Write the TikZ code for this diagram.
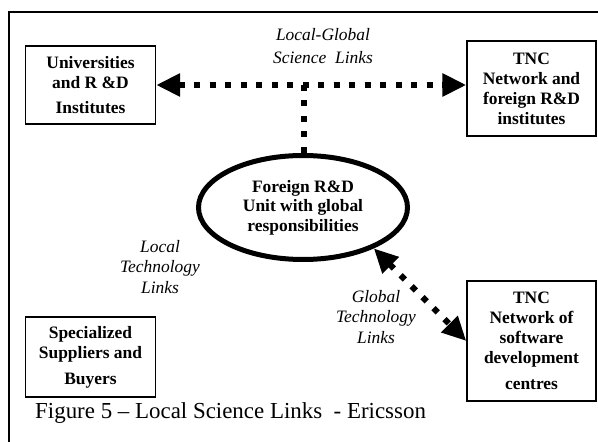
\documentclass[tikz,border=0pt]{standalone}
\usepackage{fontspec}
\setmainfont{Liberation Serif}
\usetikzlibrary{arrows.meta,shapes.geometric}
\begin{document}
\begin{tikzpicture}[x=1bp,y=-1bp,
  >={Triangle[length=24bp,width=22bp]},
  box/.style={draw,line width=1.4bp,inner sep=0pt,align=center,
    font=\fontsize{17.5}{20}\selectfont\bfseries},
  linklabel/.style={align=center,font=\fontsize{17.5}{21}\selectfont\itshape},
  dotline/.style={line width=6bp,dash pattern=on 6bp off 9.5bp}
]
\useasboundingbox (0,0) rectangle (598,442);
% outer frame (open to the right and bottom)
\draw[line width=1.5bp] (9,460) -- (9,12) -- (610,12);

% partner boxes
\node[box,minimum width=130bp,minimum height=78bp] (uni) at (90.5,85)
  {Universities\\ and R \&D\\[5bp] Institutes};
\node[box,minimum width=129bp,minimum height=95bp] (tncA) at (531.5,88.5)
  {TNC\\ Network and\\ foreign R\&D\\ institutes};
\node[box,minimum width=130bp,minimum height=80bp] (sup) at (90.5,357)
  {Specialized\\ Suppliers and\\[6bp] Buyers};
\node[box,minimum width=129bp,minimum height=120bp] (tncB) at (531.5,341)
  {TNC\\ Network of\\ software\\ development\\[6bp] centres};

% central unit
\node[draw,ellipse,line width=5bp,minimum width=209bp,minimum height=104bp,
  inner sep=0pt,align=center,font=\fontsize{17.5}{19.5}\selectfont\bfseries]
  (ell) at (303,207.5) {Foreign R\&D\\ Unit with global\\ responsibilities};

% link labels
\node[align=center,font=\fontsize{17.5}{23}\selectfont\itshape] (lg) at (323,46)
  {Local-Global\\ Science\ \ Links};
\node[linklabel] (lt) at (160,267) {Local\\ Technology\\ Links};
\node[linklabel] (gt) at (376,317) {Global\\ Technology\\ Links};

% connectors
\coordinate (j) at (304,85);
\draw[dotline,<->] (uni.east) -- (uni.east -| tncA.west);
\draw[dotline] (j) -- (j |- ell.north);
\draw[dotline,<->] (ell.-30) -- (tncB.west);

% caption
\node[anchor=base west,inner sep=0pt,font=\fontsize{23}{26}\selectfont] (cap) at (35,418)
  {Figure 5 -- Local Science Links \ - Ericsson};
\end{tikzpicture}
\end{document}
